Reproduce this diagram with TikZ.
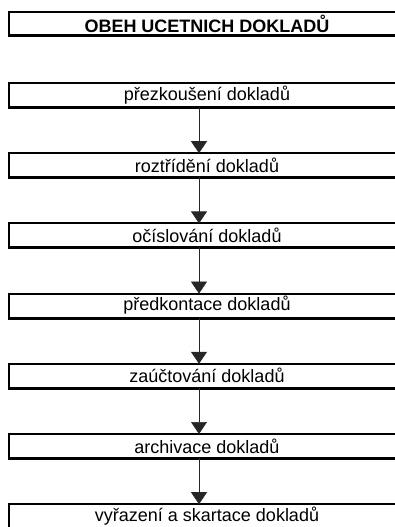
\documentclass[tikz,border=0pt]{standalone}
\usepackage{fontspec}
\setmainfont{Liberation Sans}
\usetikzlibrary{positioning,arrows.meta,shadows}
\tikzset{krok/.style={draw,fill=white,line width=2pt,outer sep=0pt,minimum width=396pt,minimum height=24pt,inner sep=0pt,
    font=\fontsize{18}{20}\selectfont,
    drop shadow={shadow xshift=-1pt,shadow yshift=-2pt,fill=black,opacity=1}},
    nadpis/.style={krok,minimum height=23pt,font=\fontsize{18}{20}\selectfont\bfseries},
    sipka/.style={-{Triangle[width=16pt,length=12pt]},line width=0.7pt,draw=black!85}}

\begin{document}
\begin{tikzpicture}[x=1pt,y=-1pt,node distance=46.2pt]
\useasboundingbox (0,0) rectangle (395,527);
\node[nadpis,anchor=north west] (titul) at (9,12.5) {OBEH UCETNICH DOKLADŮ};
\node[krok,anchor=north west] (k1) at (9,83) {přezkoušení dokladů};
\node[krok,below=of k1] (k2) {roztřídění dokladů};
\node[krok,below=of k2] (k3) {očíslování dokladů};
\node[krok,below=of k3] (k4) {předkontace dokladů};
\node[krok,below=of k4] (k5) {zaúčtování dokladů};
\node[krok,below=of k5] (k6) {archivace dokladů};
\node[krok,below=of k6] (k7) {vyřazení a skartace dokladů};
% sipky mezi kroky
\foreach \a/\b in {1/2,2/3,3/4,4/5,5/6,6/7}
    \draw[sipka] ([xshift=-8pt]k\a.south) -- ([xshift=-8pt]k\b.north);
\end{tikzpicture}
\end{document}
